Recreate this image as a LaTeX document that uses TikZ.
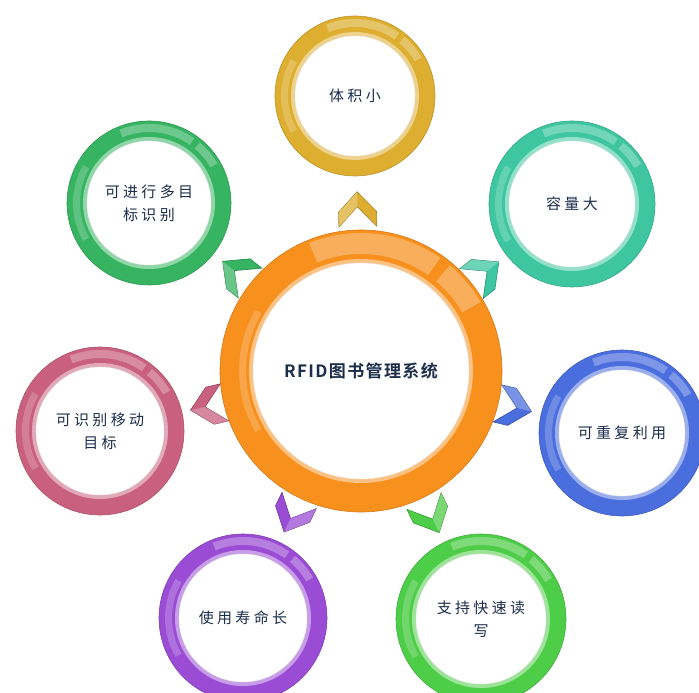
\documentclass[tikz,border=0pt]{standalone}
\usepackage{fontspec}
\newfontfamily\cjk[LetterSpace=22]{Noto Sans CJK SC}
\newfontfamily\cjkbold[LetterSpace=8]{Noto Sans CJK SC Bold}
\usetikzlibrary{calc}

\pgfdeclarelayer{background}
\pgfsetlayers{background,main}

\definecolor{ringorange}{HTML}{F8901E}
\definecolor{ringgold}{HTML}{DDAE30}
\definecolor{ringgreen}{HTML}{36B462}
\definecolor{ringteal}{HTML}{3EC6A0}
\definecolor{ringblue}{HTML}{4B6EDE}
\definecolor{ringlime}{HTML}{4ECD48}
\definecolor{ringpurple}{HTML}{9A4DD4}
\definecolor{ringpink}{HTML}{C9607F}
\definecolor{inktext}{HTML}{1C2E4A}

\tikzset{
  topic/.style={circle, minimum size=#1, inner sep=0pt, align=center,
    text=inktext, font=\cjk\fontsize{15}{23}\selectfont},
  pics/chevron/.style={code={
      \fill[#1, draw=#1!75!black, line width=0.6pt]
        (17,0) -- (-3,19) -- (-18,19) -- (2,0) -- (-18,-19) -- (-3,-19) -- cycle;
      \fill[white, opacity=0.25]
        (17,0) -- (-3,19) -- (-18,19) -- (2,0) -- cycle;
  }},
}

\begin{document}
\begin{tikzpicture}[x=1pt, y=1pt]
  \useasboundingbox (0,0) rectangle (699,693);

  % hub and topics
  \node[topic=282, font=\cjkbold\fontsize{17}{20}\selectfont] (sys) at (361,322) {RFID图书管理系统};
  \node[topic=160] (vol)   at (355,597) {体积小};
  \node[topic=164] (multi) at (149,490) {可进行多目\\标识别};
  \node[topic=166] (cap)   at (572,489) {容量大};
  \node[topic=166] (reuse) at (622,260) {可重复利用};
  \node[topic=168] (move)  at (100,262) {可识别移动\\目标};
  \node[topic=168] (life)  at (243,75)  {使用寿命长};
  \node[topic=170] (fast)  at (481,74)  {支持快速读\\写};

  % glossy rings behind the text
  \begin{pgfonlayer}{background}
    \foreach \n/\c/\ro/\ri in {sys/ringorange/141/108, vol/ringgold/80/60,
        multi/ringgreen/82/62, cap/ringteal/83/63, reuse/ringblue/83/63,
        move/ringpink/84/64, life/ringpurple/84/64, fast/ringlime/85/65}{
      \fill[\c, draw=\c!85!black, line width=0.6pt] (\n.center) circle[radius=\ro];
      \fill[\c!55!white] (\n.center) circle[radius=\ri+4];
      \fill[white, draw=black!8] (\n.center) circle[radius=\ri];
      \fill[white, opacity=0.28] ($(\n.center)+(112:{\ro-3})$)
        arc[start angle=112, end angle=55, radius=\ro-3]
        -- ($(\n.center)+(55:{\ri+9})$)
        arc[start angle=55, end angle=112, radius=\ri+9] -- cycle;
      \fill[white, opacity=0.28] ($(\n.center)+(50:{\ro-3})$)
        arc[start angle=50, end angle=30, radius=\ro-3]
        -- ($(\n.center)+(30:{\ri+9})$)
        arc[start angle=30, end angle=50, radius=\ri+9] -- cycle;
      \fill[white, opacity=0.2] ($(\n.center)+(150:{\ri+7})$)
        arc[start angle=150, end angle=210, radius=\ri+7]
        -- ($(\n.center)+(210:{\ri+14})$)
        arc[start angle=210, end angle=150, radius=\ri+14] -- cycle;
    }
  \end{pgfonlayer}

  % chevrons from the hub towards each topic
  \foreach \n/\c in {vol/ringgold, multi/ringgreen, cap/ringteal, reuse/ringblue,
      move/ringpink, life/ringpurple, fast/ringlime}
    \path (sys.center) -- (\n.center)
      pic[pos=0.59, sloped, allow upside down] {chevron=\c};
\end{tikzpicture}
\end{document}
